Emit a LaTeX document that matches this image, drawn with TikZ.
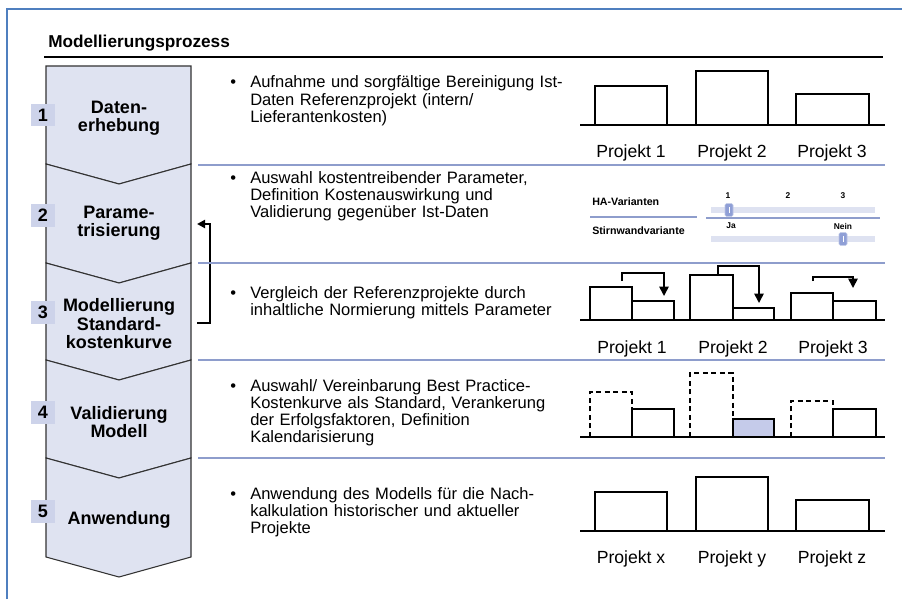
\documentclass[tikz,border=0pt]{standalone}
\usepackage{fontspec}
\setmainfont{Liberation Sans}
\usetikzlibrary{arrows.meta,positioning}

\definecolor{chevfill}{HTML}{DFE3F1}
\definecolor{numfill}{HTML}{CDD3EA}
\definecolor{seprule}{HTML}{8E9DCC}
\definecolor{frameblue}{HTML}{4F7FBF}
\definecolor{trackfill}{HTML}{DEE2F1}
\definecolor{thumbfill}{HTML}{8F9FD6}
\definecolor{barfill}{HTML}{C5CBEA}
\newcommand{\bulmark}{\llap{\textbullet\hspace{10.5pt}}}

\begin{document}
\begin{tikzpicture}[x=0.75pt,y=-0.75pt,>=Latex,
chev/.style={draw=black!80,fill=chevfill,line width=0.8pt},
steptxt/.style={font=\fontsize{13.5}{13.9}\selectfont\bfseries,align=center},
numbox/.style={fill=numfill,minimum width=18pt,minimum height=17pt,inner sep=0pt,font=\fontsize{13.5}{14}\selectfont\bfseries},
bul/.style={anchor=base west,inner sep=0pt,text width=250pt,align=left,font=\fontsize{12.4}{12.8}\selectfont},
sep/.style={draw=seprule,line width=0.8pt},
bar/.style={draw,line width=1pt},
dashbar/.style={draw,line width=1pt,dash pattern=on 3.8pt off 2.6pt},
axis/.style={line width=2.2pt},
lbl/.style={anchor=base,inner sep=0pt,font=\fontsize{13.2}{14}\selectfont},
slbl/.style={anchor=west,inner sep=0pt,font=\fontsize{8}{9}\selectfont\bfseries},
tick/.style={inner sep=0pt,font=\fontsize{6.3}{7}\selectfont\bfseries},
thumb/.style={fill=thumbfill,draw=thumbfill!60!white,rounded corners=1pt,minimum width=6pt,minimum height=9.5pt,inner sep=0pt},
shiftarr/.style={line width=1.2pt,-{Triangle[length=7pt,width=7pt]}},
brk/.style={line width=1.5pt,-{Triangle[length=6pt,width=6pt]}}]
\useasboundingbox (0,0) rectangle (902,599);
% frame and title
\draw[frameblue,line width=1.3pt] (7,599) -- (7,9) -- (902,9);
\node[anchor=base west,inner sep=0pt,font=\fontsize{12.9}{14}\selectfont\bfseries] (title) at (48,48) {Modellierungsprozess};
\draw[line width=1.5pt] (44,57) -- (883,57);
% process chevrons
\foreach \t/\b/\n in {66/164/0,164/263/20,263/360/20,360/458/20,458/557/20}
  \draw[chev] (46,\t) -- (119,\t+\n) -- (191,\t) -- (191,\b) -- (119,\b+20) -- (46,\b) -- cycle;
\node[steptxt] (s1) at (119,118) {Daten-\\erhebung};
\node[steptxt] (s2) at (119,223) {Parame-\\trisierung};
\node[steptxt] (s3) at (119,324) {Modellierung\\Standard-\\kostenkurve};
\node[steptxt] (s4) at (119,422) {Validierung\\Modell};
\node[steptxt] (s5) at (119,520) {Anwendung};
\foreach \y [count=\i] in {115,215.5,312.5,412.5,511.5}
  \node[numbox] (n\i) at (43,\y) {\i};
% loop back from step 3 to step 2
\coordinate (b3) at (197,323);
\coordinate (b2) at (197,224);
\draw[brk] (b3) -- ++(13,0) |- (b2);
% separators
\foreach \y in {165,263,360,458}
  \draw[sep] (198,\y) -- (885,\y);
% bullet texts
\node[bul] (t1) at (250,88) {\bulmark Aufnahme und sorgfältige Bereinigung Ist-\\Daten Referenzprojekt (intern/\\Lieferantenkosten)};
\node[bul] (t2) at (250,183) {\bulmark Auswahl kostentreibender Parameter,\\Definition Kostenauswirkung und\\Validierung gegenüber Ist-Daten};
\node[bul] (t3) at (250,298) {\bulmark Vergleich der Referenzprojekte durch\\inhaltliche Normierung mittels Parameter};
\node[bul] (t4) at (250,391) {\bulmark Auswahl/ Vereinbarung Best Practice-\\Kostenkurve als Standard, Verankerung\\der Erfolgsfaktoren, Definition\\Kalendarisierung};
\node[bul] (t5) at (250,499) {\bulmark Anwendung des Modells für die Nach-\\kalkulation historischer und aktueller\\Projekte};
% charts 1 and 5
\foreach \dy/\pa/\pb/\pc in {0/1/2/3,406/x/y/z}{
  \begin{scope}[shift={(0,\dy)}]
    \draw[bar] (595,125) rectangle (667,86);
    \draw[bar] (696,125) rectangle (768,71);
    \draw[bar] (796,125) rectangle (869,94);
    \draw[axis] (580,125) -- (885,125);
    \node[lbl] (lab\pa) at (631,157) {Projekt \pa};
    \node[lbl] (lab\pb) at (732,157) {Projekt \pb};
    \node[lbl] (lab\pc) at (832,157) {Projekt \pc};
  \end{scope}}
% parameter sliders
\node[slbl] (hav) at (592,202) {HA-Varianten};
\node[slbl] (swv) at (592,231) {Stirnwandvariante};
\draw[sep,line width=1.1pt] (590,217) -- (697,217);
\draw[sep,line width=1.1pt] (706,218) -- (880,218);
\fill[trackfill] (711,207) rectangle (875,213);
\fill[trackfill] (711,236) rectangle (875,242);
\foreach \x/\v in {728/1,788/2,843/3}
  \node[tick] (ha\v) at (\x,196) {\v};
\node[tick] (ja) at (731,226) {Ja};
\node[tick] (nein) at (843,226) {Nein};
\node[thumb] (th1) at (729,210) {\color{white}\rule{0.6pt}{4pt}};
\node[thumb] (th2) at (843,239) {\color{white}\rule{0.6pt}{4pt}};
% chart 3: normalisation
\foreach \xa/\xb/\xc/\ha/\hb in {590/632/674/287/301,690/733/774/275/308,791/833/876/293/301}{
  \draw[bar] (\xa,320) rectangle (\xb,\ha);
  \draw[bar] (\xb,320) rectangle (\xc,\hb);}
\draw[shiftarr] (622,281) |- (664,273) -- (664,296);
\draw[shiftarr] (718,275) |- (759,266) -- (759,303);
\draw[shiftarr] (813,281) |- (853,277) -- (853,288);
\draw[axis] (580,320) -- (885,320);
\node[lbl] (norm1) at (632,353) {Projekt 1};
\node[lbl] (norm2) at (733,353) {Projekt 2};
\node[lbl] (norm3) at (833,353) {Projekt 3};
% chart 4: best practice
\draw[dashbar] (590,437) |- (632,392) -- (632,437);
\draw[bar] (632,437) rectangle (674,409);
\draw[dashbar] (690,437) |- (733,373) -- (733,437);
\draw[bar,fill=barfill] (733,437) rectangle (774,419);
\draw[dashbar] (791,437) |- (833,401) -- (833,437);
\draw[bar] (833,437) rectangle (876,409);
\draw[axis] (580,437) -- (885,437);
\end{tikzpicture}
\end{document}
